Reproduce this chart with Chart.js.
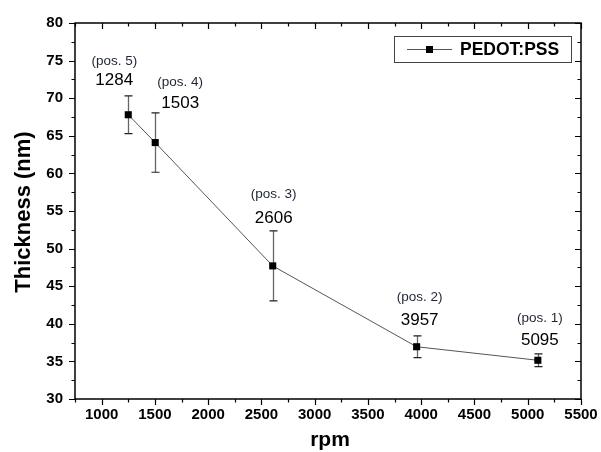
<!DOCTYPE html>
<html>
<head>
<meta charset="utf-8">
<script src="https://cdn.jsdelivr.net/npm/chart.js@4"></script>
<style>
html,body{margin:0;padding:0;background:#fff;}
#wrap{width:601px;height:452px;position:relative;}
</style>
</head>
<body>
<div id="wrap"><canvas id="c" width="601" height="452"></canvas></div>
<script>
// ---- data ----
const rpm = [1250, 1503, 2606, 3957, 5095];
const thickness = [67.8, 64.1, 47.7, 36.95, 35.15];
const thicknessErr = [2.5, 3.95, 4.65, 1.45, 0.85];
const posLabels = ['(pos. 5)', '(pos. 4)', '(pos. 3)', '(pos. 2)', '(pos. 1)'];
const rpmLabels = ['1284', '1503', '2606', '3957', '5095'];
const xTicks = [1000, 1500, 2000, 2500, 3000, 3500, 4000, 4500, 5000, 5500];
const yTicks = [30, 35, 40, 45, 50, 55, 60, 65, 70, 75, 80];
const seriesName = 'PEDOT:PSS';
const xTitle = 'rpm';
const yTitle = 'Thickness (nm)';

// label offsets in pixels relative to each point: [dx, dyPos, dyNum]
const labelOffsets = [[-14, -53, -34], [25, -60, -39], [1, -72, -48], [3, -49, -26], [2, -42, -20]];

const FONT = '"Liberation Sans", Arial, sans-serif';

const decor = {
  id: 'decor',
  beforeDatasetsDraw(chart) {
    const ctx = chart.ctx, xs = chart.scales.x, ys = chart.scales.y;
    ctx.save();
    for (let i = 0; i < rpm.length; i++) {
      const px = Math.round(xs.getPixelForValue(rpm[i])) + 0.5;
      const top = ys.getPixelForValue(thickness[i] + thicknessErr[i]);
      const bot = ys.getPixelForValue(thickness[i] - thicknessErr[i]);
      ctx.strokeStyle = '#666';
      ctx.lineWidth = 1.3;
      ctx.beginPath(); ctx.moveTo(px, top); ctx.lineTo(px, bot); ctx.stroke();
      ctx.strokeStyle = '#222';
      ctx.lineWidth = 1.2;
      ctx.beginPath();
      ctx.moveTo(px - 4, top); ctx.lineTo(px + 4, top);
      ctx.moveTo(px - 4, bot); ctx.lineTo(px + 4, bot);
      ctx.stroke();
    }
    ctx.restore();
  },
  afterDraw(chart) {
    const ctx = chart.ctx, xs = chart.scales.x, ys = chart.scales.y, a = chart.chartArea;
    ctx.save();
    ctx.strokeStyle = '#000';
    ctx.lineWidth = 1.5;
    ctx.strokeRect(a.left, a.top, a.right - a.left, a.bottom - a.top);
    ctx.lineWidth = 1.2;
    ctx.beginPath();
    for (let v = 750; v <= 5500; v += 250) {
      const p = Math.round(xs.getPixelForValue(v)) + 0.5;
      const major = xTicks.includes(v);
      const L = major ? 6 : 3.5;
      ctx.moveTo(p, a.bottom); ctx.lineTo(p, a.bottom + L);
      ctx.moveTo(p, a.top); ctx.lineTo(p, a.top + L);
    }
    for (let v = 30; v <= 80; v += 2.5) {
      const p = Math.round(ys.getPixelForValue(v)) + 0.5;
      const major = yTicks.includes(v);
      const L = major ? 6 : 3.5;
      ctx.moveTo(a.left, p); ctx.lineTo(a.left - L, p);
      ctx.moveTo(a.right, p); ctx.lineTo(a.right - L, p);
    }
    ctx.stroke();

    ctx.textAlign = 'center';
    ctx.textBaseline = 'middle';
    for (let i = 0; i < rpm.length; i++) {
      const px = xs.getPixelForValue(rpm[i]);
      const py = ys.getPixelForValue(thickness[i]);
      const o = labelOffsets[i];
      ctx.fillStyle = '#1e2433';
      ctx.font = '13.5px ' + FONT;
      ctx.fillText(posLabels[i], px + o[0], py + o[1]);
      ctx.fillStyle = '#000';
      ctx.font = '17px ' + FONT;
      ctx.fillText(rpmLabels[i], px + o[0], py + o[2]);
    }

    ctx.fillStyle = '#000';
    ctx.font = 'bold 21px ' + FONT;
    ctx.textAlign = 'center';
    ctx.textBaseline = 'alphabetic';
    ctx.fillText(xTitle, (a.left + a.right) / 2 + 2, 446);
    ctx.save();
    ctx.font = 'bold 22px ' + FONT;
    ctx.translate(30, (a.top + a.bottom) / 2 + 1);
    ctx.rotate(-Math.PI / 2);
    ctx.fillText(yTitle, 0, 0);
    ctx.restore();

    const bx = 394.5, by = 36.5, bw = 177, bh = 26;
    ctx.strokeStyle = '#444';
    ctx.lineWidth = 1;
    ctx.strokeRect(bx, by, bw, bh);
    ctx.strokeStyle = '#555';
    ctx.beginPath(); ctx.moveTo(407, by + bh / 2); ctx.lineTo(452, by + bh / 2); ctx.stroke();
    ctx.fillStyle = '#000';
    ctx.fillRect(426, by + bh / 2 - 3.5, 7, 7);
    ctx.font = 'bold 17.5px ' + FONT;
    ctx.textAlign = 'left';
    ctx.textBaseline = 'middle';
    ctx.fillText(seriesName, 460, by + bh / 2 + 1);
    ctx.restore();
  }
};

new Chart(document.getElementById('c'), {
  type: 'scatter',
  data: {
    datasets: [{
      label: seriesName,
      data: rpm.map((x, i) => ({ x: x, y: thickness[i] })),
      showLine: true,
      borderColor: '#555',
      borderWidth: 1,
      backgroundColor: '#000',
      pointBackgroundColor: '#000',
      pointBorderColor: '#000',
      pointBorderWidth: 0,
      pointStyle: 'rect',
      pointRadius: 5,
      pointHoverRadius: 5,
      tension: 0
    }]
  },
  options: {
    responsive: false,
    animation: false,
    devicePixelRatio: 1,
    layout: { padding: { top: 23, right: 20, left: 0, bottom: 0 } },
    plugins: { legend: { display: false }, tooltip: { enabled: false } },
    scales: {
      x: {
        type: 'linear',
        min: 750, max: 5500,
        afterBuildTicks(s) { s.ticks = xTicks.map(v => ({ value: v })); },
        afterFit(s) { s.height = 53; s.paddingLeft = 0; s.paddingRight = 0; },
        grid: { display: false, drawTicks: false },
        border: { display: false },
        ticks: { color: '#000', font: { family: FONT, size: 15, weight: 'bold' }, padding: 7, maxRotation: 0, autoSkip: false, callback: v => String(v) }
      },
      y: {
        type: 'linear',
        min: 30, max: 80,
        afterBuildTicks(s) { s.ticks = yTicks.map(v => ({ value: v })); },
        afterFit(s) { s.width = 75; s.paddingTop = 0; s.paddingBottom = 0; },
        grid: { display: false, drawTicks: false },
        border: { display: false },
        ticks: { color: '#000', font: { family: FONT, size: 15, weight: 'bold' }, padding: 12, callback: v => String(v) }
      }
    }
  },
  plugins: [decor]
});
</script>
</body>
</html>
